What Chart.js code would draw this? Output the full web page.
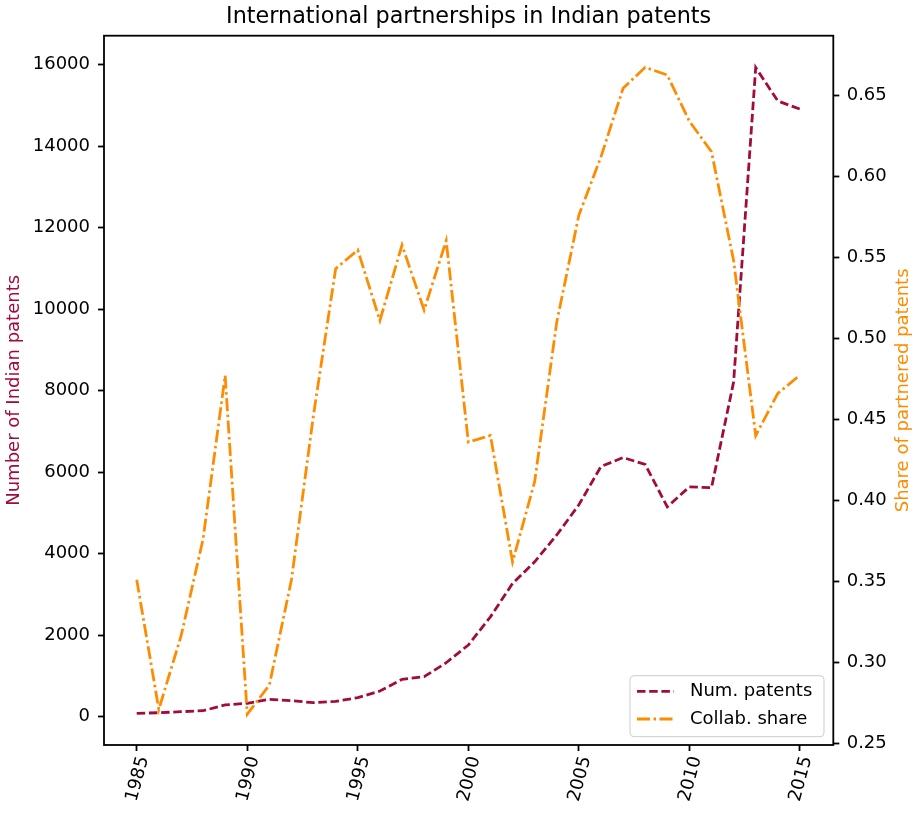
<!DOCTYPE html>
<html>
<head>
<meta charset="utf-8">
<script src="https://cdn.jsdelivr.net/npm/chart.js@4"></script>
<style>
  html, body { margin: 0; padding: 0; background: #fff; }
  #wrap { width: 917px; height: 813px; }
</style>
</head>
<body>
<div id="wrap"><canvas id="chart" width="917" height="813"></canvas></div>
<script>
// values
const years = [1985, 1986, 1987, 1988, 1989, 1990, 1991, 1992, 1993, 1994,
  1995, 1996, 1997, 1998, 1999, 2000, 2001, 2002, 2003, 2004,
  2005, 2006, 2007, 2008, 2009, 2010, 2011, 2012, 2013, 2014, 2015];
const numPatents = [83, 98, 123, 147, 290, 328, 427, 393, 344, 377,
  467, 631, 917, 982, 1325, 1760, 2450, 3270, 3800, 4460,
  5200, 6140, 6360, 6190, 5150, 5640, 5620, 8210, 15930, 15110, 14910];
const collabShare = [0.351, 0.271, 0.316, 0.376, 0.477, 0.268, 0.286, 0.351, 0.453, 0.543,
  0.5545, 0.511, 0.5576, 0.5175, 0.5603, 0.436, 0.440, 0.362, 0.4115, 0.510,
  0.576, 0.612, 0.6543, 0.6673, 0.6625, 0.634, 0.6152, 0.548, 0.440, 0.466, 0.4773];

// tick labels
const xTicks = [1985, 1990, 1995, 2000, 2005, 2010, 2015];
const leftTicks = [0, 2000, 4000, 6000, 8000, 10000, 12000, 14000, 16000];
const rightTicks = [0.25, 0.30, 0.35, 0.40, 0.45, 0.50, 0.55, 0.60, 0.65];

const crimson = "#a30b3d";
const orange = "#ff8c00";
const font = "'DejaVu Sans', sans-serif";
const dashed = [8.5, 3.7];
const dashDot = [13, 3.5, 2.5, 3.5];

const framePlugin = {
  id: "frame",
  afterDatasetsDraw(chart) {
    const { ctx, chartArea: a } = chart;
    ctx.save();
    ctx.strokeStyle = "#000";
    ctx.lineWidth = 1.8;
    ctx.strokeRect(a.left, a.top, a.right - a.left, a.bottom - a.top);
    ctx.restore();
  },
  afterDraw(chart) {
    const { ctx, chartArea: a } = chart;
    const midX = (a.left + a.right) / 2;
    const midY = (a.top + a.bottom) / 2;
    ctx.save();
    ctx.textAlign = "center";
    ctx.textBaseline = "middle";
    // title, centred over the plot area
    ctx.font = "22.3px " + font;
    ctx.fillStyle = "#000";
    ctx.fillText("International partnerships in Indian patents", midX, 17);

    ctx.font = "18px " + font;
    // left axis label
    ctx.save();
    ctx.translate(14.5, midY);
    ctx.rotate(-Math.PI / 2);
    ctx.fillStyle = crimson;
    ctx.fillText("Number of Indian patents", 0, 0);
    ctx.restore();
    // right axis label (reads bottom to top like matplotlib)
    ctx.save();
    ctx.translate(903.5, midY);
    ctx.rotate(-Math.PI / 2);
    ctx.fillStyle = orange;
    ctx.fillText("Share of partnered patents", 0, 0);
    ctx.restore();

    // legend, lower right
    const w = 194, h = 61;
    const x = a.right - 9.3 - w, y = a.bottom - 8.3 - h;
    ctx.beginPath();
    ctx.roundRect(x, y, w, h, 4);
    ctx.fillStyle = "rgba(255,255,255,0.8)";
    ctx.fill();
    ctx.strokeStyle = "#cccccc";
    ctx.lineWidth = 1;
    ctx.stroke();
    const rows = [
      { text: chart.data.datasets[1].label, color: crimson, dash: dashed },
      { text: chart.data.datasets[0].label, color: orange, dash: dashDot },
    ];
    rows.forEach((r, i) => {
      const ry = y + 15.7 + i * 27.6;
      ctx.beginPath();
      ctx.setLineDash(r.dash);
      ctx.strokeStyle = r.color;
      ctx.lineWidth = 2.8;
      ctx.moveTo(x + 7, ry);
      ctx.lineTo(x + 44, ry);
      ctx.stroke();
      ctx.setLineDash([]);
      ctx.fillStyle = "#000";
      ctx.textAlign = "left";
      ctx.fillText(r.text, x + 60, ry);
    });
    ctx.restore();
  },
};

const tickGrid = { drawOnChartArea: false, tickLength: 6, tickColor: "#000", tickWidth: 1.8 };
const tickFont = { family: font, size: 18 };

const ctx = document.getElementById("chart");

new Chart(ctx, {
  type: "line",
  data: {
    datasets: [
      {
        label: "Collab. share",
        data: years.map((yr, i) => ({ x: yr, y: collabShare[i] })),
        yAxisID: "y1",
        borderColor: orange,
        borderWidth: 2.8,
        borderDash: dashDot,
        pointRadius: 0,
        tension: 0,
        order: 0,
      },
      {
        label: "Num. patents",
        data: years.map((yr, i) => ({ x: yr, y: numPatents[i] })),
        yAxisID: "y",
        borderColor: crimson,
        borderWidth: 2.8,
        borderDash: dashed,
        pointRadius: 0,
        tension: 0,
        order: 1,
      },
    ],
  },
  options: {
    responsive: false,
    animation: false,
    layout: { padding: { top: 35.7 } },
    plugins: {
      legend: { display: false },
      tooltip: { enabled: false },
      title: { display: false },
    },
    scales: {
      x: {
        type: "linear",
        position: "bottom",
        min: 1983.52,
        max: 2016.51,
        afterFit(scale) { scale.height = 68; },
        afterBuildTicks(scale) { scale.ticks = xTicks.map((v) => ({ value: v })); },
        grid: tickGrid,
        border: { display: false },
        ticks: {
          minRotation: 75,
          maxRotation: 75,
          labelOffset: 7,
          padding: 3,
          color: "#000",
          font: tickFont,
          callback: (v) => String(v),
        },
      },
      y: {
        type: "linear",
        position: "left",
        min: -694,
        max: 16712,
        afterFit(scale) { scale.width = 104; },
        afterBuildTicks(scale) { scale.ticks = leftTicks.map((v) => ({ value: v })); },
        grid: tickGrid,
        border: { display: false },
        ticks: {
          padding: 8,
          color: "#000",
          font: tickFont,
          callback: (v) => String(v),
        },
      },
      y1: {
        type: "linear",
        position: "right",
        min: 0.249,
        max: 0.6868,
        afterFit(scale) { scale.width = 83.7; },
        afterBuildTicks(scale) { scale.ticks = rightTicks.map((v) => ({ value: v })); },
        grid: tickGrid,
        border: { display: false },
        ticks: {
          padding: 7.4,
          color: "#000",
          font: tickFont,
          callback: (v) => v.toFixed(2),
        },
      },
    },
  },
  plugins: [framePlugin],
});
</script>
</body>
</html>
